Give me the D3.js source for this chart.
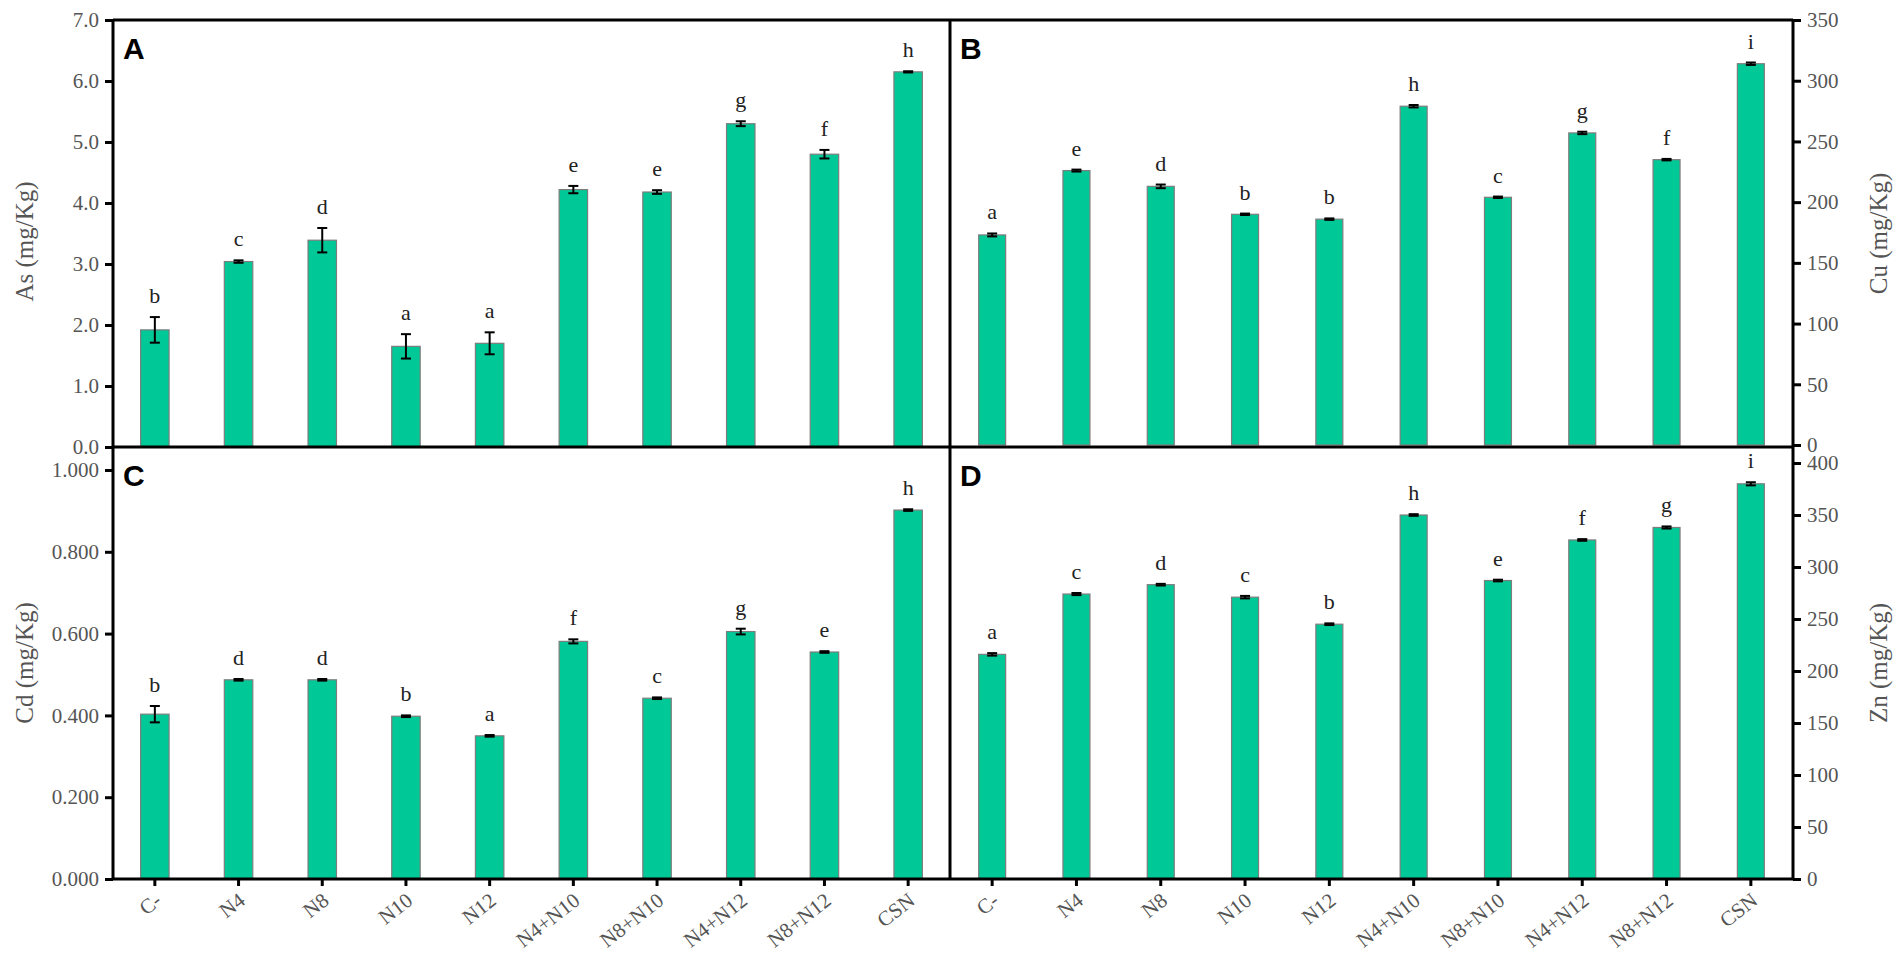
<!DOCTYPE html>
<html>
<head>
<meta charset="utf-8">
<script src="https://cdn.jsdelivr.net/npm/d3@7"></script>
<style>
  body { margin: 0; background: #fff; }
  svg { display: block; }
  .tick text { font-family: "Liberation Serif", "DejaVu Serif", serif; font-size: 21px; fill: #555; }
</style>
</head>
<body>
<div id="chart"></div>
<script>
// treatments on the x axis
var categories = ["C-", "N4", "N8", "N10", "N12", "N4+N10", "N8+N10", "N4+N12", "N8+N12", "CSN"];

// A: As (mg/Kg)
var asValues  = [1.92, 3.04, 3.39, 1.65, 1.70, 4.22, 4.18, 5.30, 4.80, 6.15];
var asErrors  = [0.21, 0.02, 0.20, 0.20, 0.18, 0.06, 0.03, 0.04, 0.07, 0.01];
var asLetters = ["b", "c", "d", "a", "a", "e", "e", "g", "f", "h"];
var asTicks   = [0, 1, 2, 3, 4, 5, 6, 7];

// B: Cu (mg/Kg)
var cuValues  = [173, 226, 213, 190, 186, 279, 204, 257, 235, 314];
var cuErrors  = [1.2, 0.8, 1.5, 0.6, 0.6, 1.0, 0.6, 1.0, 0.6, 1.0];
var cuLetters = ["a", "e", "d", "b", "b", "h", "c", "g", "f", "i"];
var cuTicks   = [0, 50, 100, 150, 200, 250, 300, 350];

// C: Cd (mg/Kg)
var cdValues  = [0.403, 0.487, 0.487, 0.398, 0.350, 0.581, 0.442, 0.605, 0.555, 0.902];
var cdErrors  = [0.020, 0.002, 0.002, 0.002, 0.002, 0.005, 0.002, 0.007, 0.002, 0.002];
var cdLetters = ["b", "d", "d", "b", "a", "f", "c", "g", "e", "h"];
var cdTicks   = [0, 0.2, 0.4, 0.6, 0.8, 1.0];

// D: Zn (mg/Kg)
var znValues  = [216, 274, 283, 271, 245, 350, 287, 326, 338, 380];
var znErrors  = [1.2, 1.0, 0.8, 1.2, 0.8, 0.8, 0.8, 0.8, 1.0, 1.5];
var znLetters = ["a", "c", "d", "c", "b", "h", "e", "f", "g", "i"];
var znTicks   = [0, 50, 100, 150, 200, 250, 300, 350, 400];

var W = 1904, H = 962;
var leftX = 113, midX = 950, rightX = 1793;
var topY = 20, midY = 447, bottomY = 879;

var svg = d3.select("#chart").append("svg")
    .attr("width", W)
    .attr("height", H);

var xLeft = d3.scaleBand().domain(categories).range([leftX, midX])
    .paddingInner(0.66).paddingOuter(0.33);
var xRight = d3.scaleBand().domain(categories).range([midX, rightX])
    .paddingInner(0.68).paddingOuter(0.34);

var panels = [
  { id: "A", x: xLeft, y: d3.scaleLinear().domain([0, 7]).range([midY, topY]),
    vals: asValues, errs: asErrors, letters: asLetters, ticks: asTicks, fmt: d3.format(".1f"),
    side: "left", title: "As  (mg/Kg)", yTop: topY, yBot: midY },
  { id: "B", x: xRight, y: d3.scaleLinear().domain([0, 350]).range([midY - 2, topY]),
    vals: cuValues, errs: cuErrors, letters: cuLetters, ticks: cuTicks, fmt: d3.format("d"),
    side: "right", title: "Cu (mg/Kg)", yTop: topY, yBot: midY },
  { id: "C", x: xLeft, y: d3.scaleLinear().domain([0, 1]).range([bottomY, 470]),
    vals: cdValues, errs: cdErrors, letters: cdLetters, ticks: cdTicks, fmt: d3.format(".3f"),
    side: "left", title: "Cd (mg/Kg)", yTop: midY, yBot: bottomY },
  { id: "D", x: xRight, y: d3.scaleLinear().domain([0, 400]).range([bottomY, 463]),
    vals: znValues, errs: znErrors, letters: znLetters, ticks: znTicks, fmt: d3.format("d"),
    side: "right", title: "Zn (mg/Kg)", yTop: midY, yBot: bottomY }
];

panels.forEach(function(p) {
  var g = svg.append("g").attr("class", "panel-" + p.id);
  var data = categories.map(function(c, i) {
    return { cat: c, v: p.vals[i], e: p.errs[i], l: p.letters[i] };
  });
  var cx = function(d) { return p.x(d.cat) + p.x.bandwidth() / 2; };

  // bars
  g.selectAll(".bar").data(data).enter().append("rect")
      .attr("class", "bar")
      .attr("x", function(d) { return p.x(d.cat); })
      .attr("width", p.x.bandwidth())
      .attr("y", function(d) { return p.y(d.v); })
      .attr("height", function(d) { return p.y(0) - p.y(d.v); })
      .attr("fill", "#00c896")
      .attr("stroke", "#7d7d7d")
      .attr("stroke-width", 1.2);

  // error bars
  var cap = 5;
  var eb = g.selectAll(".err").data(data).enter().append("g").attr("class", "err")
      .attr("stroke", "#000").attr("stroke-width", 2);
  eb.append("line")
      .attr("x1", cx).attr("x2", cx)
      .attr("y1", function(d) { return p.y(d.v + d.e); })
      .attr("y2", function(d) { return p.y(d.v - d.e); });
  eb.append("line")
      .attr("x1", function(d) { return cx(d) - cap; })
      .attr("x2", function(d) { return cx(d) + cap; })
      .attr("y1", function(d) { return p.y(d.v + d.e); })
      .attr("y2", function(d) { return p.y(d.v + d.e); });
  eb.append("line")
      .attr("x1", function(d) { return cx(d) - cap; })
      .attr("x2", function(d) { return cx(d) + cap; })
      .attr("y1", function(d) { return p.y(d.v - d.e); })
      .attr("y2", function(d) { return p.y(d.v - d.e); });

  // significance letters
  g.selectAll(".sig").data(data).enter().append("text")
      .attr("class", "sig")
      .attr("x", cx)
      .attr("y", function(d) { return p.y(d.v + d.e) - 14; })
      .attr("text-anchor", "middle")
      .attr("font-family", "Liberation Serif, serif")
      .attr("font-size", 22)
      .attr("fill", "#222")
      .text(function(d) { return d.l; });

  // y axis
  var axis = p.side === "left" ? d3.axisLeft(p.y) : d3.axisRight(p.y);
  axis.tickValues(p.ticks).tickFormat(p.fmt).tickSize(8).tickPadding(6);
  var ax = g.append("g")
      .attr("transform", "translate(" + (p.side === "left" ? leftX : rightX) + ",0)")
      .call(axis);
  ax.select(".domain").remove();
  ax.selectAll(".tick line").attr("stroke", "#000").attr("stroke-width", 3);

  // axis title
  var tx = p.side === "left" ? 24 : 1878;
  var ty = (p.yTop + p.yBot) / 2 + (p.id === "A" ? 8 : 0);
  g.append("text")
      .attr("transform", "translate(" + tx + "," + ty + ") rotate(-90)")
      .attr("text-anchor", "middle")
      .attr("dominant-baseline", "central")
      .attr("font-family", "Liberation Serif, serif")
      .attr("font-size", 25)
      .attr("fill", "#555")
      .text(p.title);

  // panel letter
  var lx = (p.side === "left" ? leftX : midX) + 10;
  g.append("text")
      .attr("x", lx)
      .attr("y", p.yTop + 39)
      .attr("font-family", "Liberation Sans, Arial, sans-serif")
      .attr("font-weight", "bold")
      .attr("font-size", 30)
      .attr("fill", "#000")
      .text(p.id);

  // x axis on the bottom row
  if (p.yBot === bottomY) {
    var xa = g.append("g")
        .attr("transform", "translate(0," + bottomY + ")")
        .call(d3.axisBottom(p.x).tickSize(7).tickPadding(4));
    xa.select(".domain").remove();
    xa.selectAll(".tick line").attr("stroke", "#000").attr("stroke-width", 3);
    xa.selectAll(".tick text")
        .attr("text-anchor", "end")
        .attr("x", 0).attr("y", 0).attr("dy", 0)
        .attr("transform", "translate(8,24) rotate(-38)")
        .attr("fill", "#333");
  }
});

// frame lines
var frame = svg.append("g").attr("stroke", "#000").attr("stroke-width", 3).attr("fill", "none");
frame.append("line").attr("x1", leftX).attr("x2", rightX).attr("y1", topY).attr("y2", topY);
frame.append("line").attr("x1", leftX).attr("x2", rightX).attr("y1", midY).attr("y2", midY);
frame.append("line").attr("x1", leftX).attr("x2", rightX).attr("y1", bottomY).attr("y2", bottomY);
frame.append("line").attr("x1", leftX).attr("x2", leftX).attr("y1", topY).attr("y2", bottomY);
frame.append("line").attr("x1", midX).attr("x2", midX).attr("y1", topY).attr("y2", bottomY);
frame.append("line").attr("x1", rightX).attr("x2", rightX).attr("y1", topY).attr("y2", bottomY);
</script>
</body>
</html>
